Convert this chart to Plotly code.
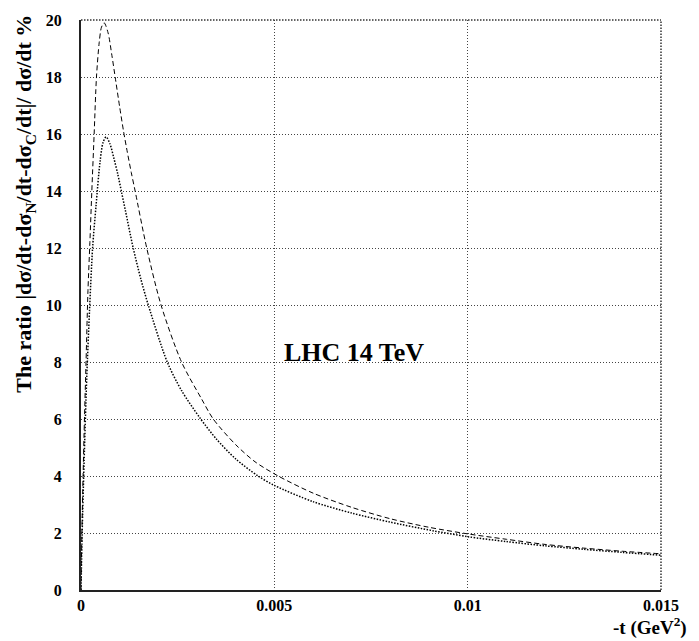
import plotly.graph_objects as go

# -t (GeV^2) and ratio (%)
t_dashed = [0, 0.00003, 0.00008, 0.00013, 0.00018, 0.00023, 0.00028, 0.00034, 0.0004,
            0.00047, 0.00053, 0.0006, 0.0007, 0.0008, 0.0009, 0.001, 0.0011, 0.0012,
            0.0013, 0.0014, 0.0017, 0.00207, 0.0026, 0.00312, 0.00342, 0.004, 0.0045,
            0.0051, 0.006, 0.007, 0.008, 0.009, 0.01, 0.011, 0.012, 0.013, 0.014, 0.015]
v_dashed = [0, 2.5, 5.5, 8.0, 10.5, 12.2, 14.0, 16.0, 18.0,
            19.2, 19.75, 19.9, 19.55, 18.75, 17.85, 16.95, 16.1, 15.35,
            14.65, 14.0, 12.0, 10.0, 8.0, 6.7, 6.0, 5.1, 4.5,
            4.0, 3.4, 2.9, 2.5, 2.2, 1.97, 1.78, 1.6, 1.47, 1.36, 1.27]

t_dotted = [0, 0.00003, 0.00008, 0.00015, 0.00022, 0.0003, 0.00039, 0.00049, 0.00057,
            0.00065, 0.00075, 0.00085, 0.00095, 0.00105, 0.00115, 0.00135, 0.00155,
            0.00174, 0.00223, 0.0026, 0.00308, 0.0035, 0.004, 0.00458, 0.005, 0.006,
            0.007, 0.008, 0.0091, 0.01, 0.011, 0.012, 0.013, 0.014, 0.015]
v_dotted = [0, 2.0, 4.5, 7.5, 9.8, 12.0, 13.5, 15.0, 15.7,
            15.9, 15.65, 15.15, 14.6, 13.95, 13.3, 12.0, 10.9,
            10.0, 8.0, 7.0, 6.03, 5.3, 4.6, 4.0, 3.67, 3.1,
            2.7, 2.38, 2.08, 1.87, 1.7, 1.55, 1.43, 1.32, 1.22]

x_ticks = [0, 0.005, 0.01, 0.015]
x_ticklabels = ["0", "0.005", "0.01", "0.015"]
y_ticks = [0, 2, 4, 6, 8, 10, 12, 14, 16, 18, 20]

FONT = "Liberation Serif, Times New Roman, serif"

fig = go.Figure()
fig.add_trace(go.Scatter(x=t_dashed, y=v_dashed, mode="lines",
                         line=dict(color="black", width=1, dash="5px,3px", shape="spline", smoothing=0.8),
                         showlegend=False))
fig.add_trace(go.Scatter(x=t_dotted, y=v_dotted, mode="lines",
                         line=dict(color="black", width=1.5, dash="1.5px,1.5px", shape="spline", smoothing=0.8),
                         showlegend=False))

# top and right frame (dotted)
fig.add_shape(type="line", xref="paper", yref="paper", x0=0, x1=1, y0=1, y1=1,
              line=dict(color="#333", width=1.5, dash="1.5px,1.5px"))
fig.add_shape(type="line", xref="paper", yref="paper", x0=1, x1=1, y0=0, y1=1,
              line=dict(color="#333", width=1.5, dash="1.5px,1.5px"))

fig.add_annotation(x=0.00706, y=8.35, xref="x", yref="y", text="<b>LHC 14 TeV</b>", showarrow=False,
                   font=dict(family=FONT, size=26, color="black"))
fig.add_annotation(x=(689 - 81) / 580, y=(590 - 627) / 577, xref="paper", yref="paper",
                   text="<b>-t (GeV<sup>2</sup>)</b>",
                   showarrow=False, xanchor="right", yanchor="middle",
                   font=dict(family=FONT, size=19, color="black"))
# y-axis title
fig.add_annotation(x=(25 - 81) / 580, y=(590 - 199) / 577, xref="paper", yref="paper",
                   text="<b>The ratio |dσ/dt-dσ<sub>N</sub>/dt-dσ<sub>C</sub>/dt|/ dσ/dt %</b>",
                   textangle=-90, showarrow=False, xanchor="center", yanchor="middle",
                   font=dict(family=FONT, size=22, color="black"))

fig.update_layout(
    width=699, height=641,
    margin=dict(l=81, r=38, t=13, b=51),
    paper_bgcolor="white", plot_bgcolor="white",
    font=dict(family=FONT, color="black"),
    xaxis=dict(range=[0, 0.015], tickvals=x_ticks, ticktext=["<b>%s</b>" % s for s in x_ticklabels],
               showgrid=True, gridcolor="#444", griddash="1px,2px", gridwidth=1,
               showline=True, linecolor="#222", linewidth=2, zeroline=False,
               ticks="", ticklabelstandoff=0,
               tickfont=dict(family=FONT, size=16, color="black")),
    yaxis=dict(range=[0, 20], tickvals=y_ticks, ticktext=["<b>%d</b>" % v for v in y_ticks],
               showgrid=True, gridcolor="#444", griddash="1px,2px", gridwidth=1,
               showline=True, linecolor="#222", linewidth=2, zeroline=False,
               ticks="", ticklabelstandoff=14,
               tickfont=dict(family=FONT, size=16, color="black")),
)

fig.write_html("out.html")
